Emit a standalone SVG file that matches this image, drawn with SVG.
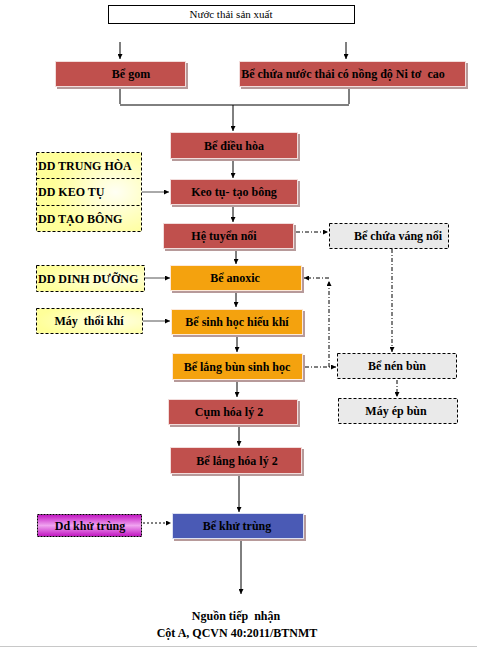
<svg xmlns="http://www.w3.org/2000/svg" width="477" height="647" viewBox="0 0 477 647">
<defs>
<style>
text{font-family:"Liberation Serif","Times New Roman",serif;font-size:12px;font-weight:bold;fill:#000;text-anchor:middle;white-space:pre}
.n{font-weight:normal;font-size:11px}
.l{text-anchor:start}
.sh{fill:#B79A9A}
.red{fill:#C0504D;stroke:#F2DCDB;stroke-width:1}
.org{fill:#F4A20E;stroke:#FDE9D9;stroke-width:1}
.blu{fill:#4A5AB5;stroke:#DCE0F2;stroke-width:1}
.gry{fill:#EAEAEA;stroke:#000;stroke-width:1;stroke-dasharray:3,2}
.ln{fill:none;stroke:#000;stroke-width:1}
.gl{fill:none;stroke:#555;stroke-width:1}
.dd{fill:none;stroke:#000;stroke-width:1;stroke-dasharray:4,2,1,2}
.ds{fill:none;stroke:#000;stroke-width:1;stroke-dasharray:2,2}
</style>
<marker id="ah" viewBox="0 0 10 10" refX="10" refY="5" markerWidth="5" markerHeight="5" orient="auto" markerUnits="userSpaceOnUse"><path d="M0,0 L10,5 L0,10 z" fill="#000"/></marker>
<radialGradient id="yel" cx="0.75" cy="0.5" r="0.6">
<stop offset="0" stop-color="#FFFFF4"/><stop offset="1" stop-color="#FFFF99"/>
</radialGradient>
<radialGradient id="yel2" cx="0.7" cy="0.5" r="0.7">
<stop offset="0" stop-color="#FFFFE6"/><stop offset="1" stop-color="#FFFF99"/>
</radialGradient>
<linearGradient id="mag" x1="0" y1="0" x2="0" y2="1">
<stop offset="0" stop-color="#C010C0"/><stop offset="0.5" stop-color="#F0A4F0"/><stop offset="1" stop-color="#C010C0"/>
</linearGradient>
</defs>

<g id="connectors">
<path class="ln" d="M120,42 V59" marker-end="url(#ah)"/>
<path class="ln" d="M346,42 V59" marker-end="url(#ah)"/>
<path class="ln" d="M120,89 V104"/>
<path class="ln" d="M349,89 V104"/>
<path class="ln" d="M120,105 H349"/>
<path class="ln" d="M233,105 V131" marker-end="url(#ah)"/>
<path class="ln" d="M233,160 V178" marker-end="url(#ah)"/>
<path class="gl" d="M142,192 H169" marker-end="url(#ah)"/>
<path class="ln" d="M233,206 V222" marker-end="url(#ah)"/>
<path class="dd" d="M296,232 H328" marker-end="url(#ah)"/>
<path class="ln" d="M236,250 V264" marker-end="url(#ah)"/>
<path class="gl" d="M145,278 H170" marker-end="url(#ah)"/>
<path class="dd" d="M392,249 V352" marker-end="url(#ah)"/>
<path class="dd" d="M329,278 H304" marker-end="url(#ah)"/>
<path class="dd" d="M329,367 V281" marker-end="url(#ah)"/>
<path class="ln" d="M236,292 V307" marker-end="url(#ah)"/>
<path class="gl" d="M143,321 H170" marker-end="url(#ah)"/>
<path class="ln" d="M237,336 V352" marker-end="url(#ah)"/>
<path class="dd" d="M305,367 H336" marker-end="url(#ah)"/>
<path class="dd" d="M397,380 V397" marker-end="url(#ah)"/>
<path class="ln" d="M237,381 V397" marker-end="url(#ah)"/>
<path class="ln" d="M239,426 V446" marker-end="url(#ah)"/>
<path class="ln" d="M239,475 V512" marker-end="url(#ah)"/>
<path class="ds" d="M143,523 H171" marker-end="url(#ah)"/>
<path class="ln" d="M241,540 V594" marker-end="url(#ah)"/>
</g>

<g id="nuoc-thai-san-xuat">
<rect x="108.5" y="5.5" width="246" height="18" fill="#fff" stroke="#000"/>
<text class="n" x="231" y="18">Nước thải sản xuất</text>
</g>

<g id="be-gom">
<rect class="sh" x="57" y="63" width="131" height="26"/>
<rect class="red" x="55.5" y="61.5" width="130" height="25"/>
<text x="131" y="78">Bể gom</text>
</g>

<g id="be-chua-nito">
<rect class="sh" x="241" y="63" width="227" height="26"/>
<rect class="red" x="239.5" y="61.5" width="226" height="25"/>
<text x="343" y="78">Bể chứa nước thải có nồng độ Ni tơ  cao</text>
</g>

<g id="be-dieu-hoa">
<rect class="sh" x="172" y="134" width="128" height="27"/>
<rect class="red" x="170.5" y="132.5" width="127" height="26"/>
<text x="234" y="150">Bể điều hòa</text>
</g>

<g id="dd-hoa-chat">
<rect x="36.5" y="152.5" width="105" height="79" fill="url(#yel)" stroke="#000" stroke-dasharray="3,2"/>
<path d="M36.5,178.5 H141.5 M36.5,205.5 H141.5" stroke="#000" stroke-dasharray="3,2" fill="none"/>
<text class="l" x="38" y="170">DD TRUNG HÒA</text>
<text class="l" x="38" y="196">DD KEO TỤ</text>
<text class="l" x="38" y="223">DD TẠO BÔNG</text>
</g>

<g id="keo-tu">
<rect class="sh" x="172" y="181" width="128" height="26"/>
<rect class="red" x="170.5" y="179.5" width="127" height="25"/>
<text x="234" y="196">Keo tụ- tạo bông</text>
</g>

<g id="he-tuyen-noi">
<rect class="sh" x="165" y="225" width="131" height="26"/>
<rect class="red" x="163.5" y="223.5" width="130" height="25"/>
<text x="224" y="240">Hệ tuyển nổi</text>
</g>

<g id="be-chua-vang-noi">
<rect class="gry" x="329.5" y="223.5" width="119" height="25"/>
<text x="398" y="240">Bể chứa váng nổi</text>
</g>

<g id="dd-dinh-duong">
<rect x="36.5" y="265.5" width="108" height="26" fill="url(#yel2)" stroke="#000" stroke-dasharray="3,2"/>
<text class="l" x="38" y="283">DD DINH DƯỠNG</text>
</g>

<g id="be-anoxic">
<rect class="sh" x="172" y="267" width="132" height="26"/>
<rect class="org" x="170.5" y="265.5" width="131" height="25"/>
<text x="235" y="282">Bể anoxic</text>
</g>

<g id="may-thoi-khi">
<rect x="36.5" y="308.5" width="106" height="25" fill="url(#yel2)" stroke="#000" stroke-dasharray="3,2"/>
<text x="89" y="325">Máy  thổi khí</text>
</g>

<g id="be-sinh-hoc">
<rect class="sh" x="173" y="311" width="132" height="26"/>
<rect class="org" x="171.5" y="309.5" width="131" height="25"/>
<text x="237" y="326">Bể sinh học hiếu khí</text>
</g>

<g id="be-lang-bun">
<rect class="sh" x="174" y="355" width="131" height="27"/>
<rect class="org" x="172.5" y="353.5" width="130" height="26"/>
<text x="237" y="371">Bể lắng bùn sinh học</text>
</g>

<g id="be-nen-bun">
<rect class="gry" x="337.5" y="353.5" width="119" height="25"/>
<text x="397" y="370">Bể nén bùn</text>
</g>

<g id="may-ep-bun">
<rect class="gry" x="338.5" y="398.5" width="119" height="25"/>
<text x="396" y="415">Máy ép bùn</text>
</g>

<g id="cum-hoa-ly-2">
<rect class="sh" x="170" y="401" width="130" height="26"/>
<rect class="red" x="168.5" y="399.5" width="129" height="25"/>
<text x="229" y="416">Cụm hóa lý 2</text>
</g>

<g id="be-lang-hoa-ly-2">
<rect class="sh" x="172" y="449" width="132" height="27"/>
<rect class="red" x="170.5" y="447.5" width="131" height="26"/>
<text x="237" y="465">Bể lắng hóa lý 2</text>
</g>

<g id="dd-khu-trung">
<rect x="37.5" y="514.5" width="104" height="22" fill="url(#mag)" stroke="#000" stroke-dasharray="2,1"/>
<text x="90" y="530">Dd khử trùng</text>
</g>

<g id="be-khu-trung">
<rect class="sh" x="174" y="515" width="132" height="26"/>
<rect class="blu" x="172.5" y="513.5" width="131" height="25"/>
<text x="237" y="530">Bể khử trùng</text>
</g>

<g id="nguon-tiep-nhan">
<text x="236" y="620">Nguồn tiếp  nhận</text>
<text x="237" y="637">Cột A, QCVN 40:2011/BTNMT</text>
</g>
<line x1="0" y1="646.5" x2="477" y2="646.5" stroke="#C8C8C8"/>
</svg>
